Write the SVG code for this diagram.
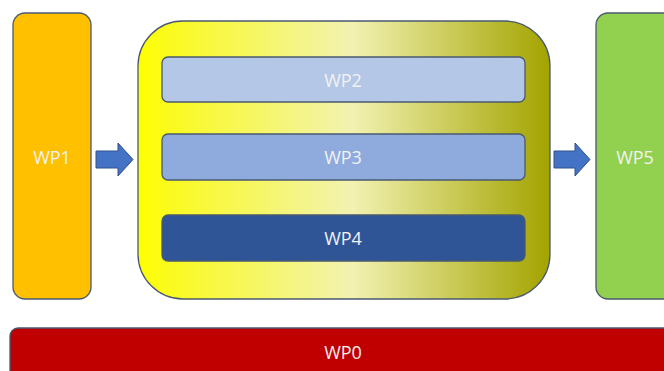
<svg xmlns="http://www.w3.org/2000/svg" width="664" height="371" viewBox="0 0 664 371">
<defs>
<linearGradient id="yg" x1="0" y1="0" x2="1" y2="0">
<stop offset="0" stop-color="#FFFF00"/>
<stop offset="0.08" stop-color="#FAFA20"/>
<stop offset="0.52" stop-color="#F2F2B2"/>
<stop offset="1" stop-color="#A3A300"/>
</linearGradient>
<style>
.box{stroke:#4A5A70;stroke-width:1.3}
.arrow{fill:#4472C4;stroke:#2F528F;stroke-width:1}
.t{font-family:"Open Sans","Noto Sans",sans-serif;font-size:18px;fill:#F2F2F2;text-anchor:middle;dominant-baseline:central}
</style>
</defs>
<rect width="664" height="371" fill="#FFFFFF"/>
<g id="WP1"><rect class="box" x="13" y="13" width="78" height="286" rx="12" fill="#FFC000"/><text class="t" x="52" y="157">WP1</text></g>
<g id="group"><rect class="box" x="138" y="21" width="412" height="278" rx="45" fill="url(#yg)"/></g>
<g id="WP2"><rect class="box" x="162" y="57" width="363" height="45" rx="6" fill="#B4C7E7"/><text class="t" x="343" y="80">WP2</text></g>
<g id="WP3"><rect class="box" x="162" y="134" width="363" height="46" rx="6" fill="#8FAADC"/><text class="t" x="343" y="157">WP3</text></g>
<g id="WP4"><rect class="box" x="162" y="215" width="363" height="46" rx="6" fill="#2F5597"/><text class="t" x="343" y="238">WP4</text></g>
<g id="WP5"><rect class="box" x="596" y="13" width="80" height="286" rx="12" fill="#92D050"/><text class="t" x="635" y="157">WP5</text></g>
<g id="WP0"><rect class="box" x="10" y="328" width="670" height="60" rx="8" fill="#C00000"/><text class="t" x="343" y="352">WP0</text></g>
<g id="connectors">
<path class="arrow" d="M96 151 H118 V143 L133 159.5 L118 176 V168 H96 Z"/>
<path class="arrow" d="M554 151 H575 V143 L590 159.5 L575 176 V168 H554 Z"/>
</g>
</svg>
